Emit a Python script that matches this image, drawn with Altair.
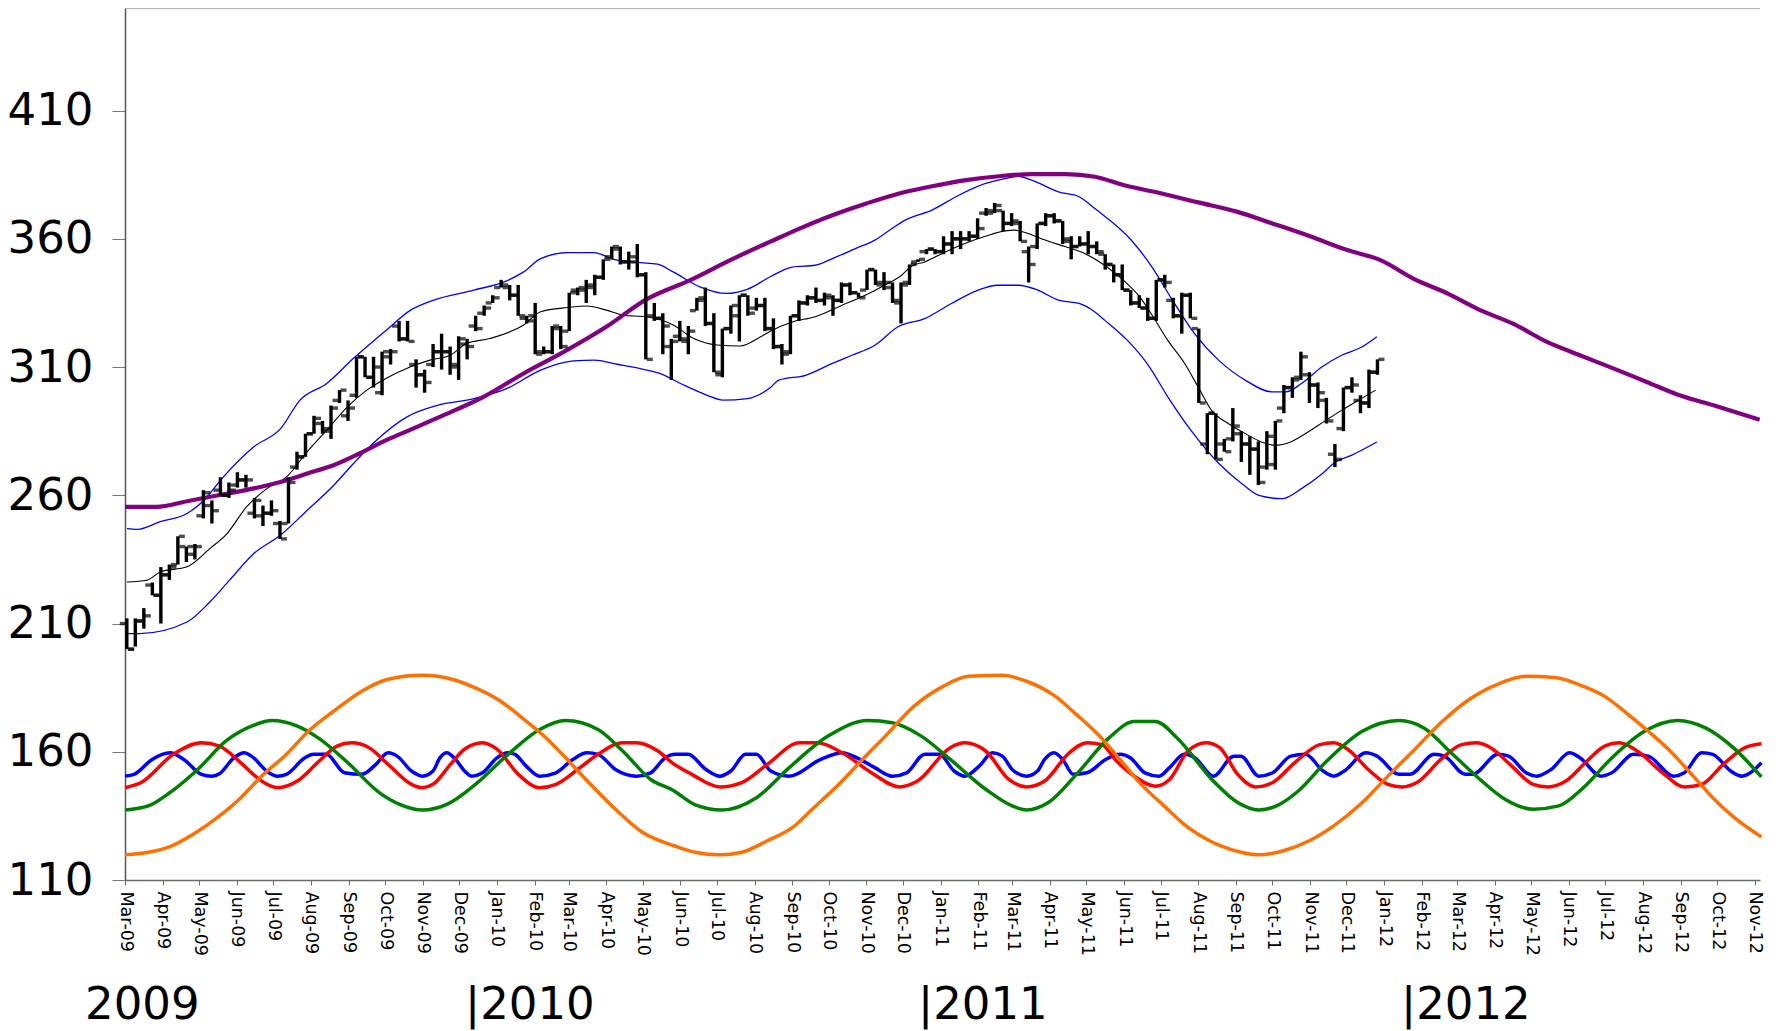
import altair as alt
import pandas as pd

# ---------------- data ----------------
START = pd.Timestamp("2009-03-01")
BAR0 = pd.Timestamp("2009-03-02 12:00")

bar_open = [210,200,211,225,221,229,233,240,237,252,256,262,260,264,266,253,252,253,249,249,
            271,275,284,288,286,297,291,299,314,306,300,314,326,321,311,307,311,316,316,310,
            319,326,331,335,341,341,338,329,330,316,316,325,324,340,340,341,345,353,356,351,
            353,346,330,329,318,322,320,332,337,327,307,325,330,338,333,334,325,318,316,330,
            335,337,336,337,336,342,339,340,348,343,341,335,343,351,355,356,355,358,360,360,
            361,370,371,371,366,366,355,357,366,369,367,359,357,358,357,354,350,346,340,335,
            333,329,344,336,330,338,325,280,292,280,282,284,280,278,271,272,294,302,306,307,
            303,297,276,286,302,297,296,308]
bar_high = [212,212,216,226,232,233,244,240,241,262,258,267,265,269,268,259,256,258,250,267,
            277,284,291,289,295,301,297,314,314,314,316,317,328,328,313,309,319,323,318,322,
            321,330,334,338,344,342,342,330,335,318,326,326,339,341,344,346,352,357,357,355,
            358,347,335,331,321,328,326,337,341,331,325,334,338,338,337,337,329,319,330,336,
            338,341,339,338,343,343,339,348,348,347,343,343,350,352,356,356,361,363,363,363,
            368,372,374,371,370,367,357,366,370,370,367,361,361,363,359,354,350,350,340,338,
            337,344,346,337,339,339,325,292,292,282,294,285,283,281,285,289,303,306,316,308,
            304,298,280,302,306,299,309,313]
bar_low = [200,201,208,221,210,227,233,234,235,251,249,260,259,263,263,251,248,252,243,249,
           270,275,284,284,282,296,289,298,306,302,299,311,320,320,302,300,310,309,307,305,
           313,324,330,335,341,336,330,327,315,315,315,317,324,338,335,338,344,352,350,348,
           345,313,328,315,305,320,315,332,326,308,306,323,320,330,332,324,317,311,315,328,
           334,335,334,330,335,338,337,340,342,340,335,327,342,351,354,354,354,354,356,359,
           360,369,370,363,365,359,343,356,365,366,358,352,357,354,354,348,343,340,334,333,
           328,328,341,329,323,329,296,276,274,277,281,273,268,264,270,270,292,298,305,296,
           294,288,271,285,300,292,294,307]
bar_close = [200,211,213,221,229,232,244,240,240,261,254,260,262,266,266,258,253,254,243,265,
             275,284,290,285,294,301,294,314,306,310,316,316,321,320,307,304,316,316,311,321,
             318,325,333,337,342,338,330,328,315,316,326,318,339,341,342,345,352,357,351,351,
             346,313,329,326,320,321,324,336,327,308,325,334,338,331,334,325,318,315,330,335,
             337,336,338,336,342,339,337,348,342,343,336,342,350,352,356,355,358,360,360,361,
             364,370,373,366,367,359,350,366,369,367,360,357,358,357,355,350,346,340,335,333,
             329,344,343,330,338,329,296,292,274,277,287,280,278,265,283,289,302,305,314,303,
             300,289,274,302,303,296,308,313]

# moving average (black) - days after 1 Mar 2009
ma_day = [1.6,18,29,51,70,84,100,117,133,150,166,183,199,215,235,251,268,281,300,328,
          342,364,380,396,410,429,451,468,487,506,523,531,549,568,590,609,625,639,647,658,
          675,691,708,724,732,743,757,774,790,806,823,836,846,858,872,883,894,908,922,935,
          946,959,971,988,1001,1015,1029]
ma_val = [226.2,226.9,230.1,232.1,239.3,245.1,255.5,262.7,267.2,277,285.4,294.5,301,305.6,310.1,312.7,314.7,319.2,321.1,326.4,
          331.6,333.2,333.8,332.2,330.2,329.6,326.4,321.1,318.6,318.2,321.8,324,327.6,329.6,334.1,338,341.9,345.8,349.3,351,
          354.9,358.2,361,363.1,363.4,362.1,359.5,356.9,354.2,349.7,343.2,336.7,329.5,320.4,311.3,302.2,293.1,287.9,284,280.8,
          279.5,280.8,284,289.2,293.1,297.1,301]

# upper band (blue)
up_day = [1.6,10,29,51,65,81,106,128,144,166,188,215,235,254,287,314,328,342,364,386,
          402,424,438,451,473,495,512,531,549,568,582,601,617,631,642,664,686,708,724,735,
          746,768,785,798,828,845,861,880,900,922,944,955,968,985,1001,1018,1030]
up_val = [247,246.7,249.7,252.9,258.1,267.2,278.9,286,297.1,303.6,313.4,324.4,332.2,336.1,340,343.6,347.1,352.3,354.6,354.6,
          352,350.7,350.1,347.1,341.3,338.7,340.3,345.2,349,349.7,352.3,356.2,359.5,364,367.3,371.2,377,381.6,383.5,384.4,
          382.9,378.3,376.4,371.8,359.45,349,336.7,323,312.6,304.8,300.3,300.3,303.6,310.1,314.6,317.9,321.8]

# lower band (blue)
lo_day = [1.6,12,51,70,86,106,128,150,172,188,204,232,257,287,314,342,369,386,405,424,
          440,457,479,492,512,531,538,560,582,598,617,636,658,680,702,718,735,751,768,785,
          798,806,826,842,858,878,900,919,933,952,968,985,996,1009,1030]
lo_val = [206.1,206.1,210.6,218.5,226.9,237.3,244.5,254.2,264,272.4,280.2,290.6,295.1,297.7,301.6,308.8,312.4,312.7,311.1,309.4,
          307.5,303.6,299,297.1,297.7,302,304.9,306.8,311.4,314.6,318.5,325.7,328.9,334.8,340,341.9,341.9,340,336.1,334.8,
          331.5,328.3,319.8,310.7,298.4,284.7,272.4,264.5,260,258.7,262.6,268.4,273,275.6,280.8]

# long cycle (purple)
pu_day = [0,26,51,78,106,128,150,172,193,215,237,259,295,328,361,396,429,465,498,531,
          555,582,610,637,664,692,719,746,774,798,822,852,883,914,944,975,1005,1033,1060,1088,
          1115,1142,1170,1197,1225,1252,1279,1307,1345]
pu_val = [255.5,255.5,257.7,260.1,262.7,265.2,268.5,271.8,276.3,281.5,286,290.6,298.4,307.5,315.9,325.7,336.4,343.9,351.7,358.9,
          364,369.2,373.8,377.7,380.5,382.9,384.4,385.2,385.2,384.2,380.9,377.8,374.2,370.7,366,361,355.7,351.7,344.5,338.7,
          332.2,326.9,319.8,314.6,309.4,304.2,299,295.1,289.5]

# cycles - x in months after Mar-09
or_m = [0,0.62,1.2,1.87,2.54,3.11,3.68,4.35,4.93,5.6,6.36,7.03,7.99,8.85,9.43,10.1,10.67,11.34,12.0,12.58,
        13.25,14.0,14.8,15.4,16.08,16.66,17.34,18.01,18.59,19.27,19.94,20.52,21.29,22.07,22.74,23.71,24.38,25.15,25.73,26.31,
        26.89,27.47,28.05,28.73,29.3,29.6,30.14,30.63,31.3,31.98,32.65,33.42,34.1,34.77,35.54,36.31,37.09,37.86,38.63,39.4,
        39.98,40.56,41.14,41.72,42.3,42.88,43.45,44.18]
or_v = [119.8,120.8,123,128.1,135,142.1,150.5,159,168,175.8,183.6,188.1,189.8,188.1,184.9,179.7,173.2,165.4,156.4,147.3,
        137.6,128.5,123.5,120.8,119.8,120.8,125.3,130.5,138.2,147.3,157.7,166.1,177.7,185.5,189.4,189.8,187.5,181.6,174.5,166.7,
        157,147.3,139.5,130.5,125.3,123.3,120.8,119.8,121.4,125.3,131.1,140.2,150.5,160.3,171.3,180.3,186.4,189.4,189,185.5,
        181.6,175.1,168,160.3,151.2,142.1,134.4,126.8]

gr_m = [0,0.62,1.2,1.96,2.73,3.4,3.97,4.64,5.21,5.98,6.84,7.42,7.99,8.66,9.43,10.29,11.15,11.91,12.78,13.45,
        14.21,14.8,15.41,16.13,17.05,17.92,18.98,20.04,20.71,21.49,22.26,23.22,24.0,24.38,24.96,25.73,26.6,27.28,27.86,28.44,
        29.4,30.05,30.63,31.11,31.69,32.46,33.42,34.39,35.06,35.83,36.61,37.28,38.05,38.73,39.4,40.17,41.04,41.91,42.68,43.45,
        44.18]
gr_v = [137.3,138.9,144.1,153.1,164.4,170,172.2,170,165.2,155.7,144.1,139.3,137.3,139.5,147.3,158.9,168.7,172.2,168.7,160.3,
        149.2,145,139.3,137.3,142.1,153.8,166.1,172.2,171.3,166.1,157,145.4,138.9,137.3,140.2,151.2,165.4,171.8,171.8,165.4,
        148.6,140.2,137.3,138.9,144.7,156.4,168,172.2,169.3,159.6,149.2,141.5,137.6,138.9,146,157.6,168,172.2,169.3,161.3,
        150.2]

rd_m = [0,0.43,1.29,2.06,2.54,3.11,3.68,4.11,4.64,5.22,5.69,6.08,6.56,7.13,7.7,7.99,8.28,8.76,9.14,9.62,
        10.0,10.57,11.15,11.63,12.3,12.78,13.44,13.83,14.4,14.8,15.31,16.08,16.66,17.34,18.2,18.69,19.36,20.14,20.91,21.39,
        22.26,22.64,23.22,23.9,24.38,24.86,25.53,26.02,26.41,26.8,27.28,27.86,28.24,28.73,29.21,29.57,30.05,30.53,31.01,31.59,
        32.27,32.65,33.04,33.62,34.1,34.48,34.87,35.54,36.12,36.51,36.89,37.47,38.05,38.44,38.92,39.5,39.98,40.37,40.85,41.52,
        42.1,42.58,43.16,43.74,44.18]
rd_v = [146,148,159,163.5,162.2,155.7,148.6,146,148.6,156.4,162.2,163.5,161.6,154.4,147.3,146,147.3,155.1,161,163.5,
        161,151.2,146,147.3,153.8,159,163.5,163.5,160.3,155.5,151.2,146.3,148,155.1,163.5,163.5,159.6,151.8,146.3,148.6,
        161.6,163.5,160.3,149.2,146.3,148.6,159.6,163.5,162.8,156.4,150.5,146.6,149.2,160.3,163.5,161.6,151.2,146.3,148,155.7,
        162.8,163.5,160.9,152.5,147.3,146.3,148,157,162.8,163.5,161.6,154.4,147.3,146.3,148.6,156.4,162.2,163.5,160.3,151.8,
        146.3,147.3,155.1,161.6,163.1]

bl_m = [0,0.24,0.72,1.2,1.58,2.06,2.34,2.54,2.92,3.21,3.4,3.88,4.11,4.35,4.83,5.07,5.41,5.89,6.36,6.75,
        7.08,7.32,7.7,7.99,8.28,8.47,8.66,8.9,9.14,9.33,9.62,10.0,10.29,10.48,10.77,11.15,11.63,12.11,12.49,12.78,
        13.25,13.83,14.21,14.59,14.86,15.21,15.7,16.08,16.37,16.76,17.05,17.43,17.92,18.78,19.36,19.75,20.23,20.71,21.1,21.58,
        21.97,22.36,22.64,23.03,23.42,23.71,24.0,24.38,24.67,24.86,25.11,25.35,25.64,26.02,26.51,26.89,27.18,27.57,27.96,28.24,
        28.63,28.92,29.4,29.95,30.14,30.63,31.01,31.49,31.88,32.36,32.65,32.94,33.52,33.81,34.39,34.68,35.35,35.64,36.22,36.41,
        37.09,37.38,37.86,38.15,38.53,39.02,39.31,39.88,40.17,40.75,41.14,41.81,42.1,42.58,42.88,43.36,43.65,44.18]
bl_v = [150.5,151.2,157,159.6,157,151.2,150.5,151.4,157.6,159.6,158.3,151.8,150.5,151.2,157.6,159,159,151.8,151.2,155.1,
        159.6,158.3,152.5,150.5,152.5,157.6,159.6,157,152.5,150.5,151.8,157.6,159.6,159,154.5,150.5,151.8,157,159.6,159,
        153.1,150.5,151.8,157.6,159,159,153.1,150.5,152.5,159,159,152.5,150.5,157,159.6,157.6,153.8,150.5,151.8,159,
        159,152.5,150.5,154.4,159.6,158.3,153.1,150.5,152.5,157,159.6,157,151.2,151.8,157,159,157.6,151.8,150.5,153.8,
        159,157.6,150.5,158.3,158.3,150.5,151.8,158.3,159,152.5,150.5,152.5,159.6,158.3,151.2,151.2,159,158.3,151.2,151.2,
        159,158.3,151.8,150.5,153.1,159.6,157.6,150.5,151.8,159,158.3,150.5,151.8,159.6,159,152.5,150.5,155.7]

y_ticks = [110, 160, 210, 260, 310, 360, 410]
year_labels = ["2009", "|2010", "|2011", "|2012"]

# ---------------- layout constants ----------------
year_x = [-40, 340, 793, 1276]
year_y = 1011


def by_day(days):
    return [START + pd.Timedelta(days=float(d)) for d in days]


def by_month(ms):
    out = []
    for m in ms:
        k = int(m)
        a = START + pd.DateOffset(months=k)
        b = START + pd.DateOffset(months=k + 1)
        out.append(a + (b - a) * (m - k))
    return out


n = len(bar_close)
bars = pd.DataFrame({
    "date": [BAR0 + pd.Timedelta(days=7 * i) for i in range(n)],
    "open": bar_open, "high": bar_high, "low": bar_low, "close": bar_close,
})

month_vals = []
y, mo = 2009, 3
while (y, mo) <= (2012, 11):
    month_vals.append(alt.DateTime(year=y, month=mo, date=1))
    mo += 1
    if mo > 12:
        mo, y = 1, y + 1

xscale = alt.Scale(domain=[alt.DateTime(year=2009, month=3, date=1),
                           alt.DateTime(year=2012, month=11, date=5, hours=6)])
yscale = alt.Scale(domain=[110, 450], nice=False, zero=False)

x_axis = alt.Axis(values=month_vals, format="%b-%y", labelAngle=90, labelFont="DejaVu Sans",
                  labelFontSize=17.5, labelPadding=6, tickSize=5, labelFlush=False, labelOverlap=False,
                  labelBound=False, grid=False, title=None, domainColor="#6b6b6b", tickColor="#6b6b6b",
                  labelColor="black", domainWidth=1.5)
y_axis = alt.Axis(values=y_ticks, labelFont="DejaVu Sans", labelFontSize=45, labelPadding=19,
                  tickSize=13, grid=False, title=None, domainColor="#555555", tickColor="#777777",
                  labelColor="black", domainWidth=1.5, labelFlush=False)

X = alt.X("date:T", scale=xscale, axis=x_axis)


def Y(field):
    return alt.Y(field, scale=yscale, axis=y_axis)


def line(days_dates, vals, color, width):
    df = pd.DataFrame({"date": days_dates, "v": vals})
    return alt.Chart(df).mark_line(color=color, strokeWidth=width, interpolate="monotone").encode(
        x=X, y=Y("v:Q"))


layers = [
    line(by_month(bl_m), bl_v, "#0000ff", 3.5),
    line(by_month(rd_m), rd_v, "#ff0000", 3.5),
    line(by_month(gr_m), gr_v, "#008000", 3.5),
    line(by_month(or_m), or_v, "#ff7000", 3.5),
    alt.Chart(pd.DataFrame({"v": [450]})).mark_rule(color="#9a9a9a", strokeWidth=1.5).encode(y=Y("v:Q")),
    line(by_day(up_day), up_val, "#0000ff", 1.3),
    line(by_day(lo_day), lo_val, "#0000ff", 1.3),
    line(by_day(ma_day), ma_val, "#000000", 1.1),
    line(by_day(pu_day), pu_val, "#800080", 4.2),
    alt.Chart(bars).mark_rule(color="black", strokeWidth=3.4).encode(x=X, y=Y("low:Q"), y2="high:Q"),
    alt.Chart(bars).mark_tick(color="black", orient="horizontal", size=6, thickness=3.4, xOffset=-4).encode(
        x=X, y=Y("open:Q")),
    alt.Chart(bars).mark_tick(color="black", orient="horizontal", size=6, thickness=3.4, xOffset=4).encode(
        x=X, y=Y("close:Q")),
]

for lab, px in zip(year_labels, year_x):
    layers.append(
        alt.Chart(pd.DataFrame({"t": [lab]})).mark_text(
            font="DejaVu Sans", fontSize=45, align="left", baseline="alphabetic", color="black"
        ).encode(x=alt.value(px), y=alt.value(year_y), text="t:N")
    )

chart = alt.layer(*layers).properties(
    width=1635, height=872,
    autosize=alt.AutoSizeParams(type="none"),
    padding={"left": 117, "top": 0, "right": 11, "bottom": 150},
).configure_view(stroke=None)

chart.save("out.html", embed_options={"renderer": "svg", "actions": False})
